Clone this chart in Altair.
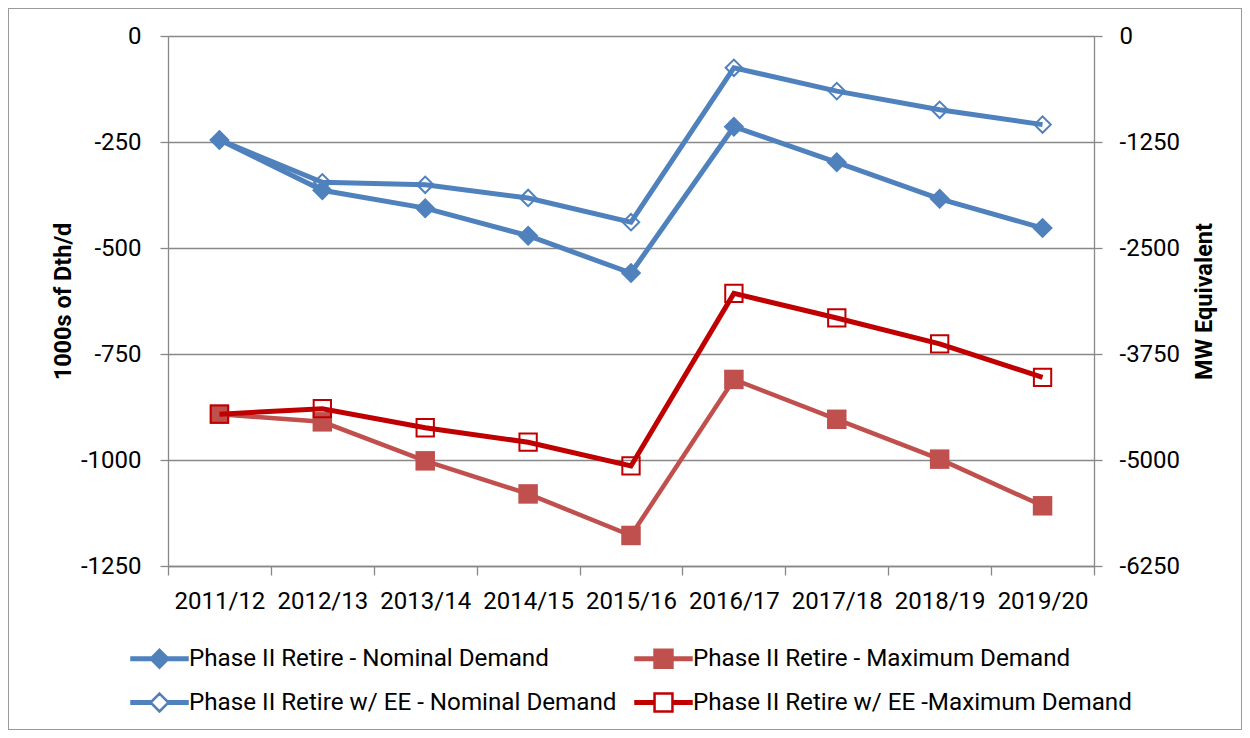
import altair as alt
import pandas as pd

YEARS = ["2011/12", "2012/13", "2013/14", "2014/15", "2015/16",
         "2016/17", "2017/18", "2018/19", "2019/20"]
SERIES = [
    "Phase II Retire - Nominal Demand",
    "Phase II Retire - Maximum Demand",
    "Phase II Retire w/ EE - Nominal Demand",
    "Phase II Retire w/ EE -Maximum Demand",
]
NOM = [-245, -364, -406, -471, -559, -214, -298, -384, -453]
MAX = [-892, -910, -1002, -1080, -1178, -810, -904, -998, -1108]
EE_NOM = [-245, -345, -351, -382, -439, -75, -130, -174, -209]
EE_MAX = [-892, -879, -924, -958, -1014, -607, -665, -726, -805]

LEFT_TICKS = [0, -250, -500, -750, -1000, -1250]
RIGHT_TICKS = [0, -1250, -2500, -3750, -5000, -6250]

BLUE = "#4F81BD"
LRED = "#C0504D"
DRED = "#C00000"
COLORS = [BLUE, LRED, BLUE, DRED]
FILLS = [BLUE, LRED, "transparent", "transparent"]
WIDTHS = [5, 4.5, 5, 5]

rows = []
for s, vals in zip(SERIES, [NOM, MAX, EE_NOM, EE_MAX]):
    for yr, v in zip(YEARS, vals):
        rows.append({"year": yr, "series": s, "value": v})
df = pd.DataFrame(rows)

FONT = "Roboto"
GRAY = "#888888"
TICK_FS = 24
LEG_FS = 24.2

# legend symbols: line segment + marker (unit coords, scaled by sqrt(size)/2)
LINE_D = "M-1,-0.045H-0.3V0.045H-1Z M0.3,-0.045H1V0.045H0.3Z "
LINE_S = "M-1,-0.045H-0.32V0.045H-1Z M0.32,-0.045H1V0.045H0.32Z "
DIAM = "M0,-0.32L0.32,0L0,0.32L-0.32,0Z"
SQR = "M-0.32,-0.32H0.32V0.32H-0.32Z"
PATHS = [LINE_D + DIAM, LINE_S + SQR, LINE_D + DIAM, LINE_S + SQR]

# legend entries are filled column by column: reorder so rows read as in the original
ORDER = [0, 2, 1, 3]
LEG_DOMAIN = [SERIES[i] for i in ORDER]
LEG_STROKE = [COLORS[i] for i in ORDER]
LEG_FILL = [FILLS[i] for i in ORDER]
LEG_SHAPE = [PATHS[i] for i in ORDER]

x_enc = alt.X(
    "year:N", sort=YEARS, bandPosition=0.5,
    scale=alt.Scale(type="band", paddingInner=0, paddingOuter=0),
    axis=alt.Axis(title=None, tickBand="extent", labelAngle=0, labelFont=FONT,
                  labelFontSize=TICK_FS, labelColor="black", tickSize=9, labelPadding=14,
                  domainColor=GRAY, tickColor=GRAY, domainWidth=1.3, tickWidth=1.3,
                  grid=False),
)

LABEL_EXPR = "datum.value == 0 ? '0' : '-' + format(abs(datum.value), 'd')"

y_left = alt.Y(
    "value:Q",
    scale=alt.Scale(domain=[-1250, 0], nice=False, zero=False),
    axis=alt.Axis(values=LEFT_TICKS, title="1000s of Dth/d", orient="left",
                  grid=True, gridColor=GRAY, gridWidth=1.4,
                  domainColor=GRAY, tickColor=GRAY, domainWidth=1.3, tickWidth=1.3,
                  tickSize=8, labelPadding=19, labelFont=FONT, labelFontSize=TICK_FS,
                  labelColor="black", labelExpr=LABEL_EXPR,
                  titleFont=FONT, titleFontSize=23.5, titleFontWeight="bold",
                  titleColor="black", titleAngle=270, titleX=-105, titleY=265,
                  titleAlign="center", titleBaseline="middle"),
)
y_plain = alt.Y("value:Q", scale=alt.Scale(domain=[-1250, 0], nice=False, zero=False))

MARKS = [
    dict(shape="diamond", filled=True, size=420, strokeWidth=0),
    dict(shape="square", filled=True, size=380, strokeWidth=0),
    dict(shape="diamond", filled=False, size=270, strokeWidth=2),
    dict(shape="square", filled=False, size=300, strokeWidth=2),
]

series_layers = []
for i, (s, c, w, m) in enumerate(zip(SERIES, COLORS, WIDTHS, MARKS)):
    base = alt.Chart(df).transform_filter(alt.datum.series == s)
    series_layers.append(
        base.mark_line(color=c, strokeWidth=w).encode(x=x_enc, y=y_left if i == 0 else y_plain)
    )
    series_layers.append(
        base.mark_point(color=c, opacity=1, **m).encode(x=x_enc, y=y_plain)
    )

LEG = alt.Legend(
    title=None, orient="none", legendX=-38, legendY=593, columns=2,
    symbolSize=3136, symbolStrokeWidth=2.5, labelFont=FONT, labelFontSize=LEG_FS,
    labelColor="black", labelOffset=0, labelLimit=800, columnPadding=13,
    rowPadding=-3, padding=0,
)
legend_layer = alt.Chart(df).mark_point(strokeWidth=2.5, opacity=1, size=0).encode(
    x=x_enc, y=y_plain,
    stroke=alt.Stroke("series:N", scale=alt.Scale(domain=LEG_DOMAIN, range=LEG_STROKE), legend=LEG),
    fill=alt.Fill("series:N", scale=alt.Scale(domain=LEG_DOMAIN, range=LEG_FILL), legend=LEG),
    shape=alt.Shape("series:N", scale=alt.Scale(domain=LEG_DOMAIN, range=LEG_SHAPE), legend=LEG),
)

left = alt.layer(*series_layers, legend_layer)

right = alt.Chart(df).transform_calculate(mw="datum.value * 5").mark_point(opacity=0).encode(
    x=x_enc,
    y=alt.Y("mw:Q", scale=alt.Scale(domain=[-6250, 0], nice=False, zero=False),
            axis=alt.Axis(values=RIGHT_TICKS, title="MW Equivalent", orient="right",
                          grid=False, domainColor=GRAY, tickColor=GRAY,
                          domainWidth=1.3, tickWidth=1.3, tickSize=8, labelPadding=17,
                          labelFont=FONT, labelFontSize=TICK_FS, labelColor="black",
                          labelExpr=LABEL_EXPR, titleFont=FONT, titleFontSize=23.5,
                          titleFontWeight="bold", titleColor="black", titleAngle=270,
                          titleX=110, titleY=265, titleAlign="center",
                          titleBaseline="middle")),
)

frame = alt.Chart(df).mark_rect(fill="transparent", stroke="#9a9a9a", strokeWidth=1).encode(
    x=alt.value(-159.5), x2=alt.value(1073.5), y=alt.value(-27.5), y2=alt.value(693.5)
)

chart = alt.layer(frame, left, right).resolve_scale(y="independent").properties(
    width=926, height=530,
    autosize=alt.AutoSizeParams(type="none"),
    padding={"left": 160, "top": 28, "right": 148, "bottom": 164},
).configure_view(stroke=None).configure(background="white")

chart.save("out.html", embed_options={"renderer": "svg", "actions": False})
